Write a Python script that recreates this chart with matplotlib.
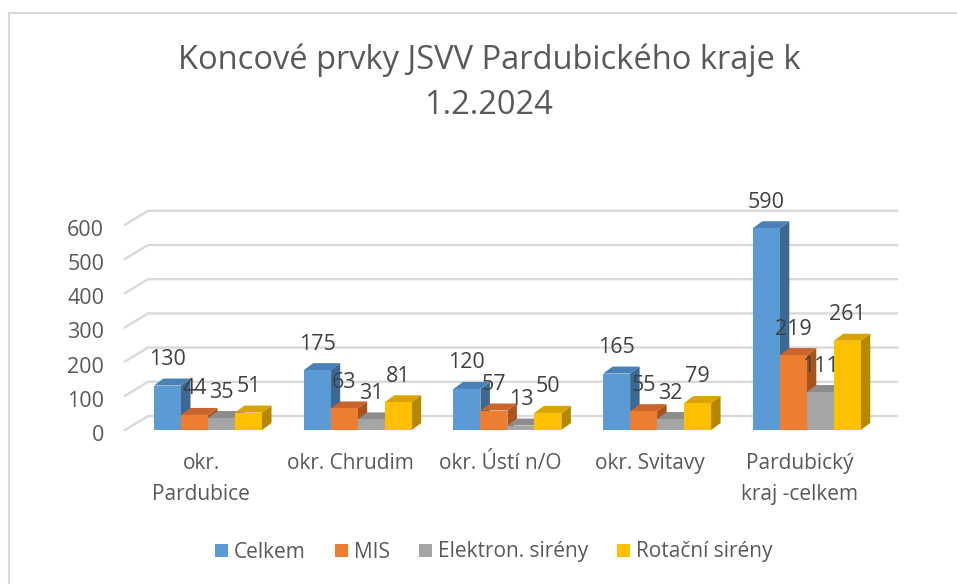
import matplotlib
matplotlib.use("Agg")
import matplotlib.pyplot as plt
from matplotlib.patches import Polygon, Patch
from matplotlib.lines import Line2D
from matplotlib.transforms import ScaledTranslation

plt.rcParams["font.family"] = ["Open Sans", "DejaVu Sans"]

# data
CATEGORIES = ["okr.\nPardubice", "okr. Chrudim", "okr. Ústí n/O", "okr. Svitavy", "Pardubický\nkraj -celkem"]
SERIES = ["Celkem", "MIS", "Elektron. sirény", "Rotační sirény"]
CELKEM = [130, 175, 120, 165, 590]
MIS = [44, 63, 57, 55, 219]
ELEKTRON = [35, 31, 13, 32, 111]
ROTACNI = [51, 81, 50, 79, 261]
YTICKS = [0, 100, 200, 300, 400, 500, 600]
TITLE = ["Koncové prvky JSVV Pardubického kraje k", "1.2.2024"]

# face colours: front, top, side
FRONT = ["#5B9BD5", "#ED7D31", "#A5A5A5", "#FFC000"]
TOP = ["#4A80B8", "#C9642A", "#8C8C8C", "#D9A300"]
SIDE = ["#3D6891", "#A9541D", "#7A7A7A", "#B58800"]
GRID, TXT, LBL = "#D9D9D9", "#595959", "#404040"

W, H = 957, 584
# layout in pixels
AX_L, AX_R, AX_T, AX_B = 125, 897, 200, 435
X0_PX, PITCH_PX = 208, 149.7       # first group centre, group pitch
Y0_PX, PX_PER_UNIT = 430, 0.342    # front zero, scale
WDX, WDY = 23 / PITCH_PX, 14 / PX_PER_UNIT     # side wall depth
BDX, BDY = 9.5 / PITCH_PX, 7 / PX_PER_UNIT     # bar depth
BW = 27 / PITCH_PX

fig = plt.figure(figsize=(W / 100, H / 100), dpi=100)
ax = fig.add_axes([AX_L / W, 1 - AX_B / H, (AX_R - AX_L) / W, (AX_B - AX_T) / H])
xlo, xhi = (AX_L - X0_PX) / PITCH_PX, (AX_R - X0_PX) / PITCH_PX
ax.set_xlim(xlo, xhi)
ax.set_ylim((Y0_PX - AX_B) / PX_PER_UNIT, (Y0_PX - AX_T) / PX_PER_UNIT)
for s in ax.spines.values():
    s.set_visible(False)

# walls / gridlines
for v in YTICKS:
    ax.plot([xlo, xlo + WDX, xhi], [v, v + WDY, v + WDY], color=GRID, lw=1.7,
            zorder=0, clip_on=False, solid_joinstyle="miter")

values = [CELKEM, MIS, ELEKTRON, ROTACNI]
offsets = [-1.5 * BW, -0.5 * BW, 0.5 * BW, 1.5 * BW]
for i in range(len(CATEGORIES)):
    for j, vals in enumerate(values):
        x, v = i + offsets[j], vals[i]
        z = 2 + i * 4 + j
        l, r = x - BW / 2, x + BW / 2
        ax.add_patch(Polygon([(r, 0), (r + BDX, BDY), (r + BDX, v + BDY), (r, v)],
                             closed=True, fc=SIDE[j], ec="none", zorder=z))
        ax.add_patch(Polygon([(l, v), (r, v), (r + BDX, v + BDY), (l + BDX, v + BDY)],
                             closed=True, fc=TOP[j], ec="none", zorder=z))
        ax.bar(x, v, BW, color=FRONT[j], zorder=z + 0.5)
        ax.annotate(str(v), xy=(x, v + BDY), xytext=(0, 19), textcoords="offset pixels",
                    ha="center", va="center", fontsize=15.5, color=LBL, zorder=100)

ax.set_yticks(YTICKS)
ax.set_yticklabels([str(t) for t in YTICKS], fontsize=15.5, color=TXT)
ax.tick_params(axis="y", length=0, pad=15)
shift = ScaledTranslation(0, -3 / 100, fig.dpi_scale_trans)
for lab in ax.get_yticklabels():
    lab.set_transform(lab.get_transform() + shift)
ax.set_xticks([i - 7 / PITCH_PX for i in range(len(CATEGORIES))])
ax.set_xticklabels(CATEGORIES, fontsize=15, color=TXT, linespacing=1.65)
ax.tick_params(axis="x", length=0, pad=13)

for k, line in enumerate(TITLE):
    fig.text(489 / W, 1 - (60 + 45 * k) / H, line, ha="center", va="center",
             fontsize=23.5, color=TXT)

handles = [Patch(facecolor=c, edgecolor="none") for c in FRONT]
fig.legend(handles, SERIES, loc="center", bbox_to_anchor=(494 / W, 1 - 552 / H), ncol=4,
           frameon=False, fontsize=15, labelcolor=TXT, handlelength=0.6, handleheight=0.6,
           handletextpad=0.3, columnspacing=1.4)

# chart border (top and left visible)
fig.add_artist(Line2D([9 / W, 9 / W, 1], [0, 1 - 13 / H, 1 - 13 / H], color=GRID, lw=1.5))

fig.savefig("out.png", dpi=100)
